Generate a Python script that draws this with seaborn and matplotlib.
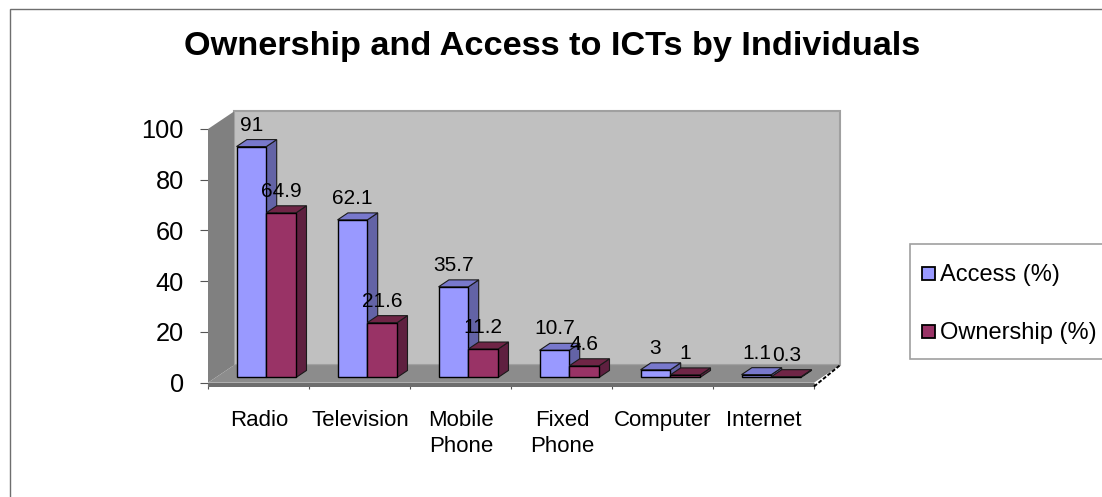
import matplotlib
matplotlib.use("Agg")
import matplotlib.pyplot as plt
from matplotlib.patches import Polygon, Rectangle
from matplotlib.lines import Line2D
import pandas as pd
import seaborn as sns

categories = ["Radio", "Television", "Mobile\nPhone", "Fixed\nPhone", "Computer", "Internet"]
access = [91, 62.1, 35.7, 10.7, 3, 1.1]
ownership = [64.9, 21.6, 11.2, 4.6, 1, 0.3]
series_names = ["Access (%)", "Ownership (%)"]
y_ticks = [0, 20, 40, 60, 80, 100]

FIG_W, FIG_H = 1102, 497
LEFT, RIGHT, TOP, BOTTOM = 208, 814, 129, 382.7
PX_X = (RIGHT - LEFT) / 6          # pixels per category
PX_Y = (BOTTOM - TOP) / 100        # pixels per percentage point
DEPTH_X = 26 / PX_X                # full chart depth in data units
DEPTH_Y = 17.5 / PX_Y

FILLS = {"Access (%)": ("#9999FF", "#6363A6", "#7878CC"),
         "Ownership (%)": ("#993366", "#5F2040", "#6F2546")}

sns.set_theme(style="white")
plt.rcParams["font.family"] = ["Liberation Sans", "DejaVu Sans"]

fig = plt.figure(figsize=(FIG_W / 100, FIG_H / 100), dpi=100)
ax = fig.add_axes([LEFT / FIG_W, 1 - BOTTOM / FIG_H,
                   (RIGHT - LEFT) / FIG_W, (BOTTOM - TOP) / FIG_H])
ax.patch.set_alpha(0)


def sheared(x, y, depth):
    """Position of a front-plane data point pushed back by a depth fraction."""
    return x + depth * DEPTH_X, y + depth * DEPTH_Y


def add_poly(points, color, z, edge="none", lw=0):
    ax.add_patch(Polygon(points, closed=True, facecolor=color, edgecolor=edge,
                         linewidth=lw, zorder=z, clip_on=False))


# Chart frame and the walls and floor of the box
fig.add_artist(Rectangle((9.5 / FIG_W, -0.1), 1.2, 1.1 - 8.5 / FIG_H, transform=fig.transFigure,
                         facecolor="white", edgecolor="#6E6E6E", linewidth=1, zorder=-5))
x0, x1 = -0.5, 5.5
add_poly([sheared(x0, 0, 1), sheared(x1, 0, 1), sheared(x1, 100, 1), sheared(x0, 100, 1)],
         "#C0C0C0", 1, "#A0A0A0", 1.5)
add_poly([(x0, 0), sheared(x0, 0, 1), sheared(x0, 100, 1), (x0, 100)], "#808080", 1.2)
add_poly([(x0, 0), (x1, 0), sheared(x1, 0, 1), sheared(x0, 0, 1)], "#8C8C8C", 1.2)
ax.add_patch(Rectangle((x0, -1.5), 6, 1.5, facecolor="#6E6E6E", edgecolor="none",
                       clip_on=False, zorder=1.3))
ax.add_line(Line2D(*zip((x1, -1.5), sheared(x1, 0, 1)), color="black", linewidth=1.4,
                   linestyle=(0, (2, 1)), clip_on=False, zorder=1.3))

# Front faces come from seaborn; depth faces are derived from each bar
table = pd.DataFrame({
    "category": categories * 2,
    "value": access + ownership,
    "series": [series_names[0]] * 6 + [series_names[1]] * 6,
})
sns.barplot(data=table, x="category", y="value", hue="series", hue_order=series_names,
            order=categories, palette=[FILLS[s][0] for s in series_names],
            width=0.59, gap=0, dodge=True, legend=False, ax=ax,
            saturation=1, edgecolor="black", linewidth=1)

BAR_FRONT, BAR_BACK = 0.3, 0.7
for s_i, (name, container) in enumerate(zip(series_names, ax.containers)):
    front, side, top = FILLS[name]
    base = 3 + 2 * s_i
    for bar in container:
        value = bar.get_height()
        left = bar.get_x() + BAR_FRONT * DEPTH_X
        bar.set_x(left)
        bar.set_y(BAR_FRONT * DEPTH_Y)
        bar.set_zorder(base + 1)
        bar.set_clip_on(False)
        width = bar.get_width()
        y_low, y_high = bar.get_y(), bar.get_y() + value
        shift = ((BAR_BACK - BAR_FRONT) * DEPTH_X, (BAR_BACK - BAR_FRONT) * DEPTH_Y)
        r = left + width
        add_poly([(r, y_low), (r + shift[0], y_low + shift[1]),
                  (r + shift[0], y_high + shift[1]), (r, y_high)],
                 side, base, "#1A1A1A", 0.8)
        add_poly([(left, y_high), (r, y_high), (r + shift[0], y_high + shift[1]),
                  (left + shift[0], y_high + shift[1])], top, base, "#1A1A1A", 0.8)
        ax.annotate(f"{value:g}", (left + width / 2, y_high), xytext=(0, 15.5),
                    textcoords="offset points", ha="center", va="center",
                    fontsize=15, color="black", zorder=10, annotation_clip=False)

ax.set_xlim(x0, x1)
ax.set_ylim(0, 100)
ax.set_xlabel("")
ax.set_ylabel("")
for spine in ax.spines.values():
    spine.set_visible(False)

ax.set_yticks(y_ticks)
ax.set_xticks([x0 + i for i in range(7)])
ax.set_xticklabels([])
ax.tick_params(axis="y", left=True, length=6, width=0.8, color="#555555",
               labelsize=18.3, labelcolor="black", pad=11.5)
ax.tick_params(axis="x", bottom=True, length=4, width=0.8, color="#555555")
for i, label in enumerate(categories):
    ax.annotate(label, (i, 0), xytext=(0.3, -20), textcoords="offset points",
                ha="center", va="top", fontsize=16, color="black", linespacing=1.27,
                annotation_clip=False)

fig.text(552.5 / FIG_W, 1 - 47 / FIG_H, "Ownership and Access to ICTs by Individuals",
         fontsize=24.7, fontweight="bold", color="black", ha="center", va="center")

# Legend box
fig.add_artist(Rectangle((909.5 / FIG_W, 1 - 359 / FIG_H), 1.2, 115.5 / FIG_H,
                         transform=fig.transFigure, facecolor="white",
                         edgecolor="#A0A0A0", linewidth=1.2))
for name, y_px in zip(series_names, (273, 331)):
    fig.add_artist(Rectangle((921.5 / FIG_W, 1 - (y_px + 6.5) / FIG_H), 13 / FIG_W, 13 / FIG_H,
                             transform=fig.transFigure, facecolor=FILLS[name][0],
                             edgecolor="black", linewidth=1.3))
    fig.text(939.5 / FIG_W, 1 - (y_px + 2) / FIG_H, name, fontsize=17, color="black",
             ha="left", va="center")

fig.savefig("out.png", dpi=100)
